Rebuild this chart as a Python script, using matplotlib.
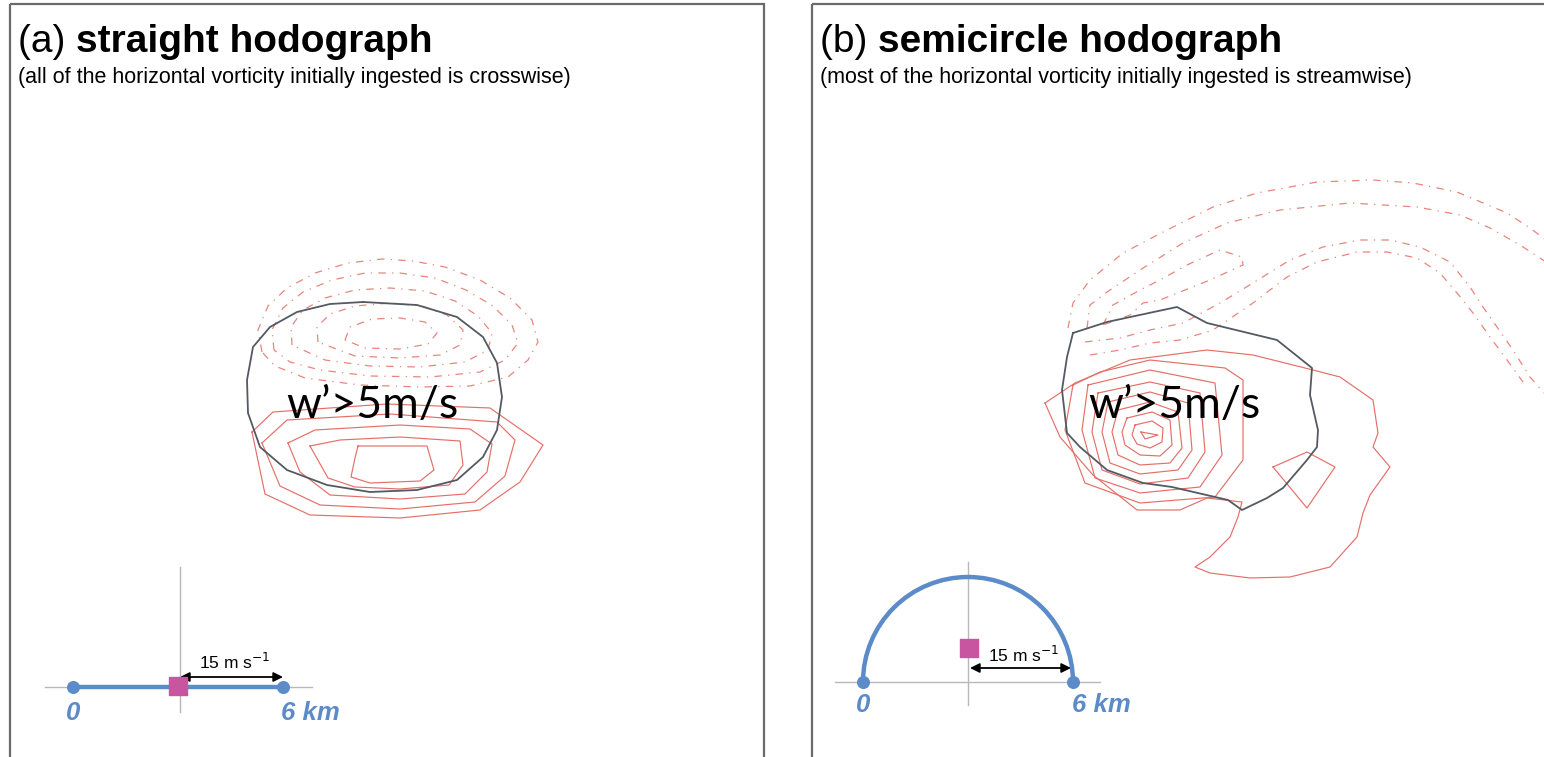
import matplotlib
matplotlib.use("Agg")
import matplotlib.pyplot as plt
from matplotlib.patches import Rectangle, Arc

# ---------------------------------------------------------------
# Panel (a): straight hodograph -- contour vertices (figure px)
# ---------------------------------------------------------------
a_updraft = [(363, 302), (417, 305), (457, 317), (483, 337), (497, 363), (502, 397),
             (497, 430), (483, 457), (457, 480), (417, 490), (370, 492), (327, 485),
             (287, 470), (260, 447), (248, 413), (247, 380), (253, 347), (270, 327),
             (297, 312), (330, 304)]

a_pos = [
    [(358, 446), (427, 446), (434, 470), (420, 481), (370, 483), (351, 477), (355, 458)],
    [(310, 446), (340, 440), (400, 437), (460, 441), (463, 465), (449, 485), (400, 489),
     (355, 487), (328, 478)],
    [(288, 443), (315, 430), (400, 425), (470, 429), (492, 444), (487, 472), (465, 494),
     (400, 499), (330, 495), (300, 472)],
    [(262, 443), (287, 420), (390, 414), (497, 422), (515, 440), (505, 476), (475, 502),
     (400, 509), (320, 505), (280, 486)],
    [(252, 432), (273, 412), (387, 404), (490, 408), (543, 445), (520, 482), (480, 510),
     (400, 518), (310, 515), (265, 494)],
]

a_neg = [
    [(262, 352), (258, 330), (268, 306), (287, 288), (315, 273), (348, 263), (382, 259),
     (413, 261), (445, 267), (480, 280), (510, 298), (532, 320), (538, 342), (528, 360),
     (508, 377), (470, 386), (420, 387), (360, 385), (305, 378), (275, 366)],
    [(274, 350), (272, 330), (283, 308), (303, 292), (332, 280), (365, 273), (400, 273),
     (435, 278), (466, 290), (493, 306), (512, 325), (518, 343), (505, 360), (480, 372),
     (430, 377), (370, 376), (320, 370), (290, 362)],
    [(292, 345), (291, 327), (303, 310), (325, 298), (355, 290), (390, 288), (425, 291),
     (455, 301), (478, 316), (492, 333), (488, 350), (465, 362), (420, 367), (370, 366),
     (325, 360)],
    [(318, 342), (317, 327), (330, 314), (355, 306), (390, 303), (422, 306), (447, 315),
     (463, 330), (460, 345), (440, 355), (400, 358), (355, 356)],
    [(345, 340), (350, 327), (372, 319), (400, 318), (425, 322), (437, 333), (428, 344),
     (400, 349), (365, 348)],
]

# ---------------------------------------------------------------
# Panel (b): semicircle hodograph
# ---------------------------------------------------------------
b_updraft = [(1073, 333), (1107, 322), (1177, 307), (1207, 323), (1277, 340), (1312, 368),
             (1310, 395), (1318, 430), (1317, 447), (1307, 460), (1283, 488), (1267, 498),
             (1242, 510), (1228, 500), (1172, 487), (1143, 483), (1107, 470), (1080, 447),
             (1067, 433), (1062, 390), (1067, 357)]

b_pos = [
    [(1141, 432), (1158, 435), (1145, 439)],
    [(1135, 425), (1152, 421), (1163, 428), (1162, 442), (1150, 448), (1137, 444), (1132, 435)],
    [(1127, 418), (1152, 412), (1170, 420), (1172, 445), (1160, 456), (1140, 455), (1125, 445),
     (1122, 432)],
    [(1118, 410), (1150, 402), (1178, 412), (1182, 448), (1170, 463), (1140, 465), (1118, 455),
     (1112, 432)],
    [(1108, 402), (1150, 392), (1188, 403), (1192, 450), (1178, 470), (1140, 474), (1110, 463),
     (1102, 432)],
    [(1098, 393), (1150, 382), (1200, 393), (1205, 452), (1188, 478), (1140, 484), (1102, 470),
     (1092, 432)],
    [(1088, 385), (1150, 370), (1215, 383), (1222, 455), (1200, 487), (1140, 493), (1095, 478),
     (1082, 430)],
    [(1073, 385), (1100, 372), (1150, 360), (1225, 368), (1243, 380), (1243, 460), (1215, 497),
     (1140, 503), (1085, 483), (1065, 430)],
    [(1045, 403), (1075, 383), (1130, 360), (1207, 350), (1253, 355), (1313, 370), (1340, 377),
     (1373, 400), (1378, 433), (1373, 447), (1390, 467), (1370, 495), (1363, 513), (1357, 537),
     (1330, 567), (1290, 577), (1250, 578), (1210, 573), (1195, 567), (1210, 557), (1230, 537),
     (1238, 517), (1242, 502), (1207, 498), (1180, 510), (1137, 510), (1093, 475), (1060, 437)],
    [(1273, 467), (1307, 452), (1335, 467), (1307, 508)],
]

b_neg = [
    [(1068, 328), (1073, 303), (1090, 280), (1123, 253), (1167, 230), (1213, 207), (1257, 193),
     (1317, 182), (1373, 180), (1413, 183), (1457, 192), (1507, 213), (1530, 228), (1546, 240)],
    [(1087, 328), (1090, 305), (1107, 292), (1140, 270), (1183, 243), (1227, 223), (1280, 210),
     (1350, 203), (1417, 207), (1460, 215), (1490, 228), (1520, 245), (1546, 262)],
    [(1103, 325), (1113, 305), (1140, 290), (1160, 280), (1187, 265), (1220, 250), (1242, 257),
     (1243, 265), (1210, 280), (1180, 292), (1160, 300), (1143, 303), (1130, 315), (1103, 325)],
    [(1085, 342), (1120, 338), (1150, 330), (1183, 323), (1220, 303), (1253, 283), (1290, 260),
     (1323, 247), (1360, 240), (1390, 240), (1420, 247), (1450, 262), (1470, 287), (1483, 307),
     (1497, 327), (1513, 350), (1530, 377), (1546, 395)],
    [(1090, 355), (1120, 350), (1150, 343), (1180, 340), (1213, 330), (1253, 303), (1287, 277),
     (1317, 262), (1357, 252), (1387, 252), (1417, 258), (1440, 273), (1457, 293), (1473, 313),
     (1490, 337), (1507, 360), (1523, 382)],
]

# Hodograph insets: origin, end points and storm-motion marker (px)
a_hodo_origin = (178, 687)
a_hodo_ends = [(73, 687), (283, 687)]
a_storm = (178, 686)
b_hodo_origin = (968, 682)
b_hodo_radius = 105
b_storm = (969, 648)

titles = ["(a) ", "(b) "]
titles_bold = ["straight hodograph", "semicircle hodograph"]
subtitles = ["(all of the horizontal vorticity initially ingested is crosswise)",
             "(most of the horizontal vorticity initially ingested is streamwise)"]
updraft_label = "w\u2019>5m/s"
speed_label = "15 m s$^{-1}$"

RED = "#e46f68"
REDD = "#e8857e"
BLUE = "#5b8bc9"
GRAY = "#b8b8b8"
MAG = "#c8559f"

fig = plt.figure(figsize=(15.44, 7.57), dpi=100)
ax = fig.add_axes([0, 0, 1, 1])
ax.set_xlim(0, 1544)
ax.set_ylim(757, 0)
ax.axis("off")

# panel frames
for x0, w in [(10, 754), (812, 800)]:
    ax.add_patch(Rectangle((x0, 4), w, 800, fill=False, ec="#6b6b6b", lw=1.6))


def poly(pts, closed=True, **kw):
    xs = [p[0] for p in pts]
    ys = [p[1] for p in pts]
    if closed:
        xs.append(xs[0])
        ys.append(ys[0])
    ax.plot(xs, ys, **kw)


dash = (0, (6, 5, 1.0, 5))
for ring in a_neg:
    poly(ring, color=REDD, lw=0.9, ls=dash)
for ring in a_pos:
    poly(ring, color=RED, lw=0.85)
poly(a_updraft, color="#545a62", lw=1.3)

for ring in b_neg:
    poly(ring, closed=False, color=REDD, lw=0.9, ls=dash)
for ring in b_pos:
    poly(ring, color=RED, lw=0.85)
poly(b_updraft, color="#545a62", lw=1.3)

# titles
for x0, t, tb, st in [(18, titles[0], titles_bold[0], subtitles[0]),
                      (820, titles[1], titles_bold[1], subtitles[1])]:
    t1 = ax.text(x0, 42, t, fontsize=28, family="Liberation Sans", va="center", ha="left")
    ax.annotate(tb, xy=(1, 0.5), xycoords=t1, xytext=(0, 0), textcoords="offset points",
                fontsize=28, family="Liberation Sans", weight="bold", va="center", ha="left")
    ax.text(x0, 78, st, fontsize=15.5, family="Liberation Sans", va="center", ha="left")

ax.text(372, 405, updraft_label, fontsize=32, family="Lato", ha="center", va="center")
ax.text(1174, 405, updraft_label, fontsize=32, family="Lato", ha="center", va="center")

# ---- hodograph (a)
ox, oy = a_hodo_origin
ax.plot([45, 312], [oy, oy], color=GRAY, lw=1.0)
ax.plot([ox + 2, ox + 2], [567, 712], color=GRAY, lw=1.0)
ax.plot([a_hodo_ends[0][0], a_hodo_ends[1][0]], [a_hodo_ends[0][1], a_hodo_ends[1][1]],
        color=BLUE, lw=3.2, solid_capstyle="butt", zorder=3)
ax.scatter([p[0] for p in a_hodo_ends], [p[1] for p in a_hodo_ends], s=70, color=BLUE, zorder=4)
ax.scatter([a_storm[0]], [a_storm[1]], s=150, marker="s", color=MAG, zorder=5)
ax.annotate("", xy=(283, 677), xytext=(180, 677),
            arrowprops=dict(arrowstyle="<|-|>", color="black", lw=1.3, mutation_scale=14,
                            shrinkA=0, shrinkB=0))
ax.text(235, 662, speed_label, fontsize=12.5, family="Liberation Sans", ha="center", va="center")
ax.text(73, 713, "0", fontsize=18.5, color=BLUE, weight="bold", style="italic",
        family="Liberation Sans", ha="center", va="center")
ax.text(310, 713, "6 km", fontsize=18.5, color=BLUE, weight="bold", style="italic",
        family="Liberation Sans", ha="center", va="center")

# ---- hodograph (b)
ox, oy = b_hodo_origin
r = b_hodo_radius
ax.plot([835, 1100], [oy, oy], color=GRAY, lw=1.0)
ax.plot([ox, ox], [562, 705], color=GRAY, lw=1.0)
ax.add_patch(Arc((ox, oy), 2 * r, 2 * r, theta1=180, theta2=360, color=BLUE, lw=3.2, zorder=3))
ax.scatter([ox - r, ox + r], [oy, oy], s=70, color=BLUE, zorder=4)
ax.scatter([b_storm[0]], [b_storm[1]], s=150, marker="s", color=MAG, zorder=5)
ax.annotate("", xy=(ox + r - 2, 668), xytext=(ox + 2, 668),
            arrowprops=dict(arrowstyle="<|-|>", color="black", lw=1.3, mutation_scale=14,
                            shrinkA=0, shrinkB=0))
ax.text(1024, 655, speed_label, fontsize=12.5, family="Liberation Sans", ha="center", va="center")
ax.text(ox - r, 705, "0", fontsize=18.5, color=BLUE, weight="bold", style="italic",
        family="Liberation Sans", ha="center", va="center")
ax.text(ox + r + 28, 705, "6 km", fontsize=18.5, color=BLUE, weight="bold", style="italic",
        family="Liberation Sans", ha="center", va="center")

fig.savefig("out.png", dpi=100)
